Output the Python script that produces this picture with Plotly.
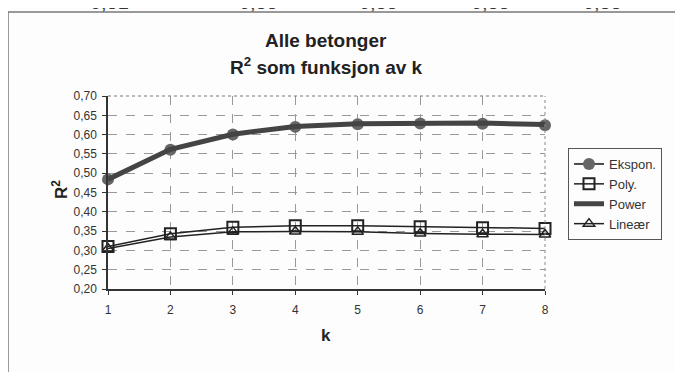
import plotly.graph_objects as go

# R^2 for the four regression types, k = 1..8
k = [1, 2, 3, 4, 5, 6, 7, 8]
ekspon = [0.484, 0.561, 0.600, 0.620, 0.627, 0.629, 0.628, 0.624]
poly = [0.310, 0.343, 0.360, 0.364, 0.364, 0.361, 0.359, 0.357]
power = [0.484, 0.562, 0.601, 0.621, 0.628, 0.630, 0.630, 0.626]
linear = [0.305, 0.335, 0.348, 0.349, 0.348, 0.344, 0.342, 0.341]
y_ticks = [0.20, 0.25, 0.30, 0.35, 0.40, 0.45, 0.50, 0.55, 0.60, 0.65, 0.70]

# values of a table row above the chart, cut off by the crop
top_row = ["0,51", "0,55", "0,55", "0,55", "0,55"]
top_row_x = [88, 258, 400, 512, 624]

# the page body has an 8px margin, so the figure is 8px smaller and every
# position below is given in window pixels and shifted by OFF
OFF = 8
W, H = 683 - OFF, 372 - OFF
L, R, T, B = 108 - OFF, 683 - 545, 96 - OFF, 372 - 289
pw, ph = W - L - R, H - T - B


def px(x):
    return (x - OFF - L) / pw


def py(y):
    return 1 - (y - OFF - T) / ph


font = "Liberation Sans, Arial, sans-serif"

fig = go.Figure()
fig.add_trace(go.Scatter(
    x=k, y=ekspon, name="Ekspon.", mode="lines+markers",
    line=dict(color="#4a4a4a", width=2),
    marker=dict(symbol="circle", size=12, color="#666666"),
    cliponaxis=False,
))
fig.add_trace(go.Scatter(
    x=k, y=poly, name="Poly.", mode="lines+markers",
    line=dict(color="#222222", width=1.5),
    marker=dict(symbol="square-open", size=11, color="#222222", line=dict(width=2)),
    cliponaxis=False,
))
fig.add_trace(go.Scatter(
    x=k, y=power, name="Power", mode="lines",
    line=dict(color="#444444", width=5),
    cliponaxis=False,
))
fig.add_trace(go.Scatter(
    x=k, y=linear, name="Lineær", mode="lines+markers",
    line=dict(color="#222222", width=1.5),
    marker=dict(symbol="triangle-up-open", size=10, color="#222222", line=dict(width=1.5)),
    cliponaxis=False,
))

annotations = [
    dict(text="<b>Alle betonger</b>", x=px(326), y=py(40), xref="paper", yref="paper",
         showarrow=False, font=dict(size=19, color="#222"), yanchor="middle"),
    dict(text="<b>R<sup>2</sup> som funksjon av k</b>", x=px(326), y=py(66),
         xref="paper", yref="paper", showarrow=False,
         font=dict(size=19, color="#222"), yanchor="middle"),
    dict(text="<b>k</b>", x=px(326), y=py(335), xref="paper", yref="paper",
         showarrow=False, font=dict(size=17, color="#222"), yanchor="middle"),
    dict(text="<b>R<sup>2</sup></b>", x=px(60), y=py(190), xref="paper", yref="paper",
         showarrow=False, font=dict(size=17, color="#222"), textangle=-90,
         xanchor="center", yanchor="middle"),
]
for t, x in zip(top_row, top_row_x):
    annotations.append(dict(text=t, x=px(x), y=py(OFF + 7), xref="paper", yref="paper",
                            showarrow=False, yanchor="bottom",
                            font=dict(size=20, color="#333")))

shapes = [
    dict(type="line", xref="paper", yref="paper", x0=px(8), x1=px(683 + 5),
         y0=py(12), y1=py(12), line=dict(color="#777", width=1.5)),
    dict(type="line", xref="paper", yref="paper", x0=px(8), x1=px(8),
         y0=py(12), y1=py(372 + 5), line=dict(color="#777", width=1.5)),
    dict(type="line", xref="paper", yref="paper", x0=1, x1=1, y0=0, y1=1,
         line=dict(color="#888", width=1, dash="dot")),
    dict(type="line", xref="paper", yref="paper", x0=0, x1=1, y0=1, y1=1,
         line=dict(color="#777", width=1, dash="dot")),
]

fig.update_layout(
    width=W, height=H,
    margin=dict(l=L, r=R, t=T, b=B, autoexpand=False),
    paper_bgcolor="#fdfdfd", plot_bgcolor="#fdfdfd",
    font=dict(family=font, size=12, color="#333"),
    separators=", ",
    showlegend=True,
    legend=dict(x=px(568), y=py(148), xanchor="left", yanchor="top",
                bordercolor="#555", borderwidth=1, bgcolor="#fdfdfd",
                font=dict(size=13, color="#333"), itemwidth=30),
    annotations=annotations,
    shapes=shapes,
)
fig.update_xaxes(
    range=[1, 8], tickvals=k, showgrid=True, gridcolor="#999", griddash="dash",
    gridwidth=1, zeroline=False, showline=True, linecolor="#333", linewidth=1.5,
    ticks="outside", ticklen=4, tickcolor="#333", automargin=False,
    ticklabelstandoff=5,
)
fig.update_yaxes(
    range=[0.2, 0.7], tickvals=y_ticks, tickformat=".2f", showgrid=True,
    gridcolor="#999", griddash="dash", gridwidth=1, zeroline=False,
    showline=True, linecolor="#333", linewidth=1.5,
    ticks="outside", ticklen=4, tickcolor="#333", automargin=False,
    ticklabelstandoff=3,
)

fig.write_html("out.html")
